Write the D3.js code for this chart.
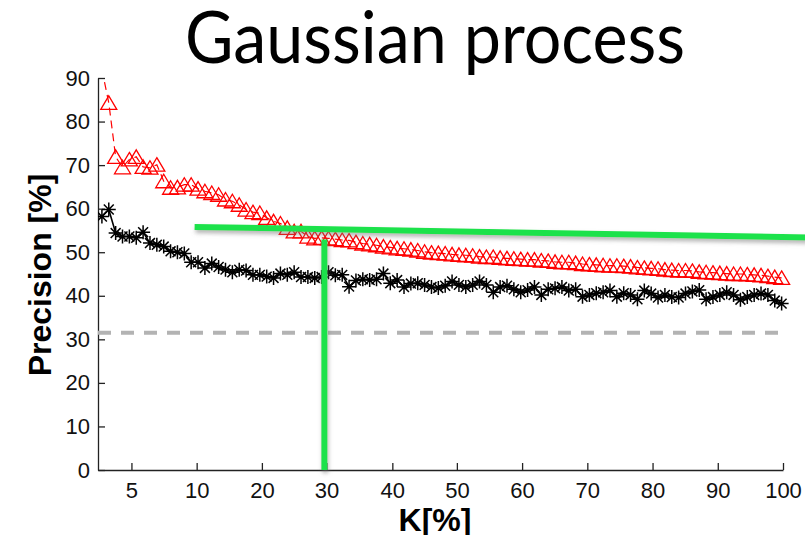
<!DOCTYPE html>
<html>
<head>
<meta charset="utf-8">
<script src="https://cdn.jsdelivr.net/npm/d3@7"></script>
<style>
  body { margin: 0; background: #fff; }
  svg { display: block; }
  .tick text { font-family: "Liberation Sans", Arial, sans-serif; }
</style>
</head>
<body>
<svg id="chart" width="805" height="535"></svg>
<script>
// precision per K step (plotted against point index, as plot(y) would)
const gpPrecision = [
  92, 84.3, 71.9, 69.5, 71.3, 71.9, 69.6, 69.4, 70.1, 66.3,
  64.8, 64.9, 65.5, 65.5, 64.6, 64.0, 63.6, 63.2, 62.1, 61.7,
  60.9, 59.8, 59.2, 59.0, 57.9, 57.1, 56.6, 55.6, 54.8, 54.8,
  53.6, 53.2, 53.3, 53.2, 53.0, 52.8, 52.7, 52.3, 52.0, 51.8,
  51.6, 51.3, 51.1, 50.9, 50.8, 50.6, 50.4, 50.1, 49.9, 49.8,
  49.7, 49.5, 49.4, 49.3, 49.2, 49.0, 48.9, 48.9, 48.7, 48.6,
  48.5, 48.4, 48.3, 48.3, 48.1, 48.0, 47.8, 47.7, 47.7, 47.5,
  47.3, 47.2, 47.1, 47.0, 46.9, 46.9, 46.8, 46.7, 46.5, 46.4,
  46.3, 46.2, 46.0, 45.9, 45.8, 45.8, 45.7, 45.5, 45.4, 45.3,
  45.2, 45.1, 45.0, 45.0, 44.9, 44.8, 44.7, 44.5, 44.3, 44.1
];
const baselinePrecision = [
  58.2, 59.8, 54.4, 53.6, 53.6, 53.3, 54.6, 52.1, 51.7, 51.3,
  50.2, 50.0, 49.7, 47.7, 47.7, 46.4, 47.4, 46.6, 46.0, 45.4,
  46.0, 45.8, 44.8, 44.8, 44.4, 44.1, 45.1, 44.8, 45.4, 44.3,
  44.3, 44.1, 44.3, 45.4, 44.7, 44.8, 42.1, 43.5, 43.8, 43.6,
  43.8, 45.1, 42.9, 43.6, 42.0, 42.8, 42.9, 42.5, 42.0, 41.8,
  42.3, 43.3, 42.5, 42.0, 42.5, 43.3, 42.5, 40.8, 42.0, 42.3,
  41.5, 40.8, 41.3, 42.0, 40.2, 41.5, 41.7, 42.0, 41.2, 41.5,
  39.8, 40.2, 40.6, 40.8, 41.2, 39.8, 40.6, 40.2, 39.2, 41.2,
  40.5, 39.6, 40.2, 39.7, 39.6, 40.5, 41.0, 41.3, 39.2, 39.7,
  40.2, 40.8, 40.2, 39.1, 39.7, 40.2, 40.5, 40.2, 38.9, 38.2
];
const randomLevel = 31.5;

const xTickPositions = [5.3, 14.8, 24.3, 33.7, 43.3, 52.7, 62.2, 71.7, 81.2, 90.7, 100.2];
const xTickLabels = ['5', '10', '20', '30', '40', '50', '60', '70', '80', '90', '100'];
const yTicks = [0, 10, 20, 30, 40, 50, 60, 70, 80, 90];

// hand-drawn green marks, in data units
const greenLevel = [[14.5, 55.8], [104, 53.4]];
const greenCut = [[33.4, 0], [33.4, 52.9]];

const svg = d3.select('#chart');
const margin = { top: 78, right: 22, bottom: 65, left: 98 };
const width = +svg.attr('width') - margin.left - margin.right;
const height = +svg.attr('height') - margin.top - margin.bottom;

const x = d3.scaleLinear().domain([0.43, 100.2]).range([margin.left, margin.left + width]);
const y = d3.scaleLinear().domain([0, 90]).range([margin.top + height, margin.top]);

const defs = svg.append('defs');
defs.append('clipPath').attr('id', 'plot-clip')
  .append('rect')
  .attr('x', margin.left).attr('y', margin.top)
  .attr('width', width + 10).attr('height', height);
// user space region, otherwise the straight vertical stroke gets no filter box
const shadow = defs.append('filter').attr('id', 'shadow')
  .attr('filterUnits', 'userSpaceOnUse')
  .attr('x', 0).attr('y', 0).attr('width', 805).attr('height', 535);
shadow.append('feDropShadow')
  .attr('dx', 1).attr('dy', 3).attr('stdDeviation', 2)
  .attr('flood-color', '#777').attr('flood-opacity', 0.55);

// title
svg.append('text')
  .attr('x', 435).attr('y', 63)
  .attr('text-anchor', 'middle')
  .attr('textLength', 500).attr('lengthAdjust', 'spacingAndGlyphs')
  .style('font-family', 'Lato, "Open Sans", sans-serif')
  .style('font-size', '72px')
  .text('Gaussian process');

// axes, ticks pointing inward like matlab
const xAxis = d3.axisBottom(x)
  .tickValues(xTickPositions)
  .tickFormat((d, i) => xTickLabels[i])
  .tickSizeInner(-7).tickSizeOuter(0).tickPadding(12);
const yAxis = d3.axisLeft(y)
  .tickValues(yTicks)
  .tickSizeInner(-7).tickSizeOuter(0).tickPadding(8);

const gx = svg.append('g')
  .attr('transform', `translate(0,${margin.top + height})`)
  .call(xAxis);
const gy = svg.append('g')
  .attr('transform', `translate(${margin.left},0)`)
  .call(yAxis);
[gx, gy].forEach(g => {
  g.selectAll('path, line').attr('stroke', '#222').attr('stroke-width', 1.3);
  g.selectAll('text').attr('fill', '#111').style('font-size', '22px');
});

// axis labels
svg.append('text')
  .attr('x', 435).attr('y', 531)
  .attr('text-anchor', 'middle')
  .style('font-family', '"Liberation Sans", Arial, sans-serif')
  .style('font-weight', 'bold').style('font-size', '32px')
  .text('K[%]');
svg.append('text')
  .attr('transform', 'translate(51,275) rotate(-90)')
  .attr('text-anchor', 'middle')
  .style('font-family', '"Liberation Sans", Arial, sans-serif')
  .style('font-weight', 'bold').style('font-size', '32px')
  .text('Precision [%]');

// random-guess reference
svg.append('line')
  .attr('x1', x(0.43)).attr('x2', x(100))
  .attr('y1', y(randomLevel)).attr('y2', y(randomLevel))
  .attr('stroke', '#b3b3b3').attr('stroke-width', 4)
  .attr('stroke-dasharray', '13,10');

const plot = svg.append('g').attr('clip-path', 'url(#plot-clip)');
const line = d3.line().x((d, i) => x(i + 1)).y(d => y(d));

// black stars, solid line
plot.append('path')
  .datum(baselinePrecision)
  .attr('d', line)
  .attr('fill', 'none').attr('stroke', '#000').attr('stroke-width', 1.6);
const star = r => {
  const a = r * Math.SQRT1_2;
  return `M${-r},0L${r},0M0,${-r}L0,${r}M${-a},${-a}L${a},${a}M${-a},${a}L${a},${-a}`;
};
plot.append('g').selectAll('path')
  .data(baselinePrecision)
  .join('path')
  .attr('transform', (d, i) => `translate(${x(i + 1)},${y(d)})`)
  .attr('d', star(7))
  .attr('fill', 'none').attr('stroke', '#000').attr('stroke-width', 1.5);

// red triangles, dashed line
plot.append('path')
  .datum(gpPrecision)
  .attr('d', line)
  .attr('fill', 'none').attr('stroke', '#ff0000').attr('stroke-width', 1.2)
  .attr('stroke-dasharray', '8,5');
plot.append('g').selectAll('path')
  .data(gpPrecision)
  .join('path')
  .attr('transform', (d, i) => `translate(${x(i + 1)},${y(d)})`)
  .attr('d', 'M0,-7L8,6.5L-8,6.5Z')
  .attr('fill', 'none').attr('stroke', '#ff0000').attr('stroke-width', 1.3);

// green annotation strokes
const greenLine = d3.line().x(d => x(d[0])).y(d => y(d[1]));
[greenLevel, greenCut].forEach(seg => {
  svg.append('path')
    .datum(seg)
    .attr('d', greenLine)
    .attr('fill', 'none')
    .attr('stroke', '#1ee24b').attr('stroke-width', 6)
    .attr('filter', 'url(#shadow)');
});
</script>
</body>
</html>
